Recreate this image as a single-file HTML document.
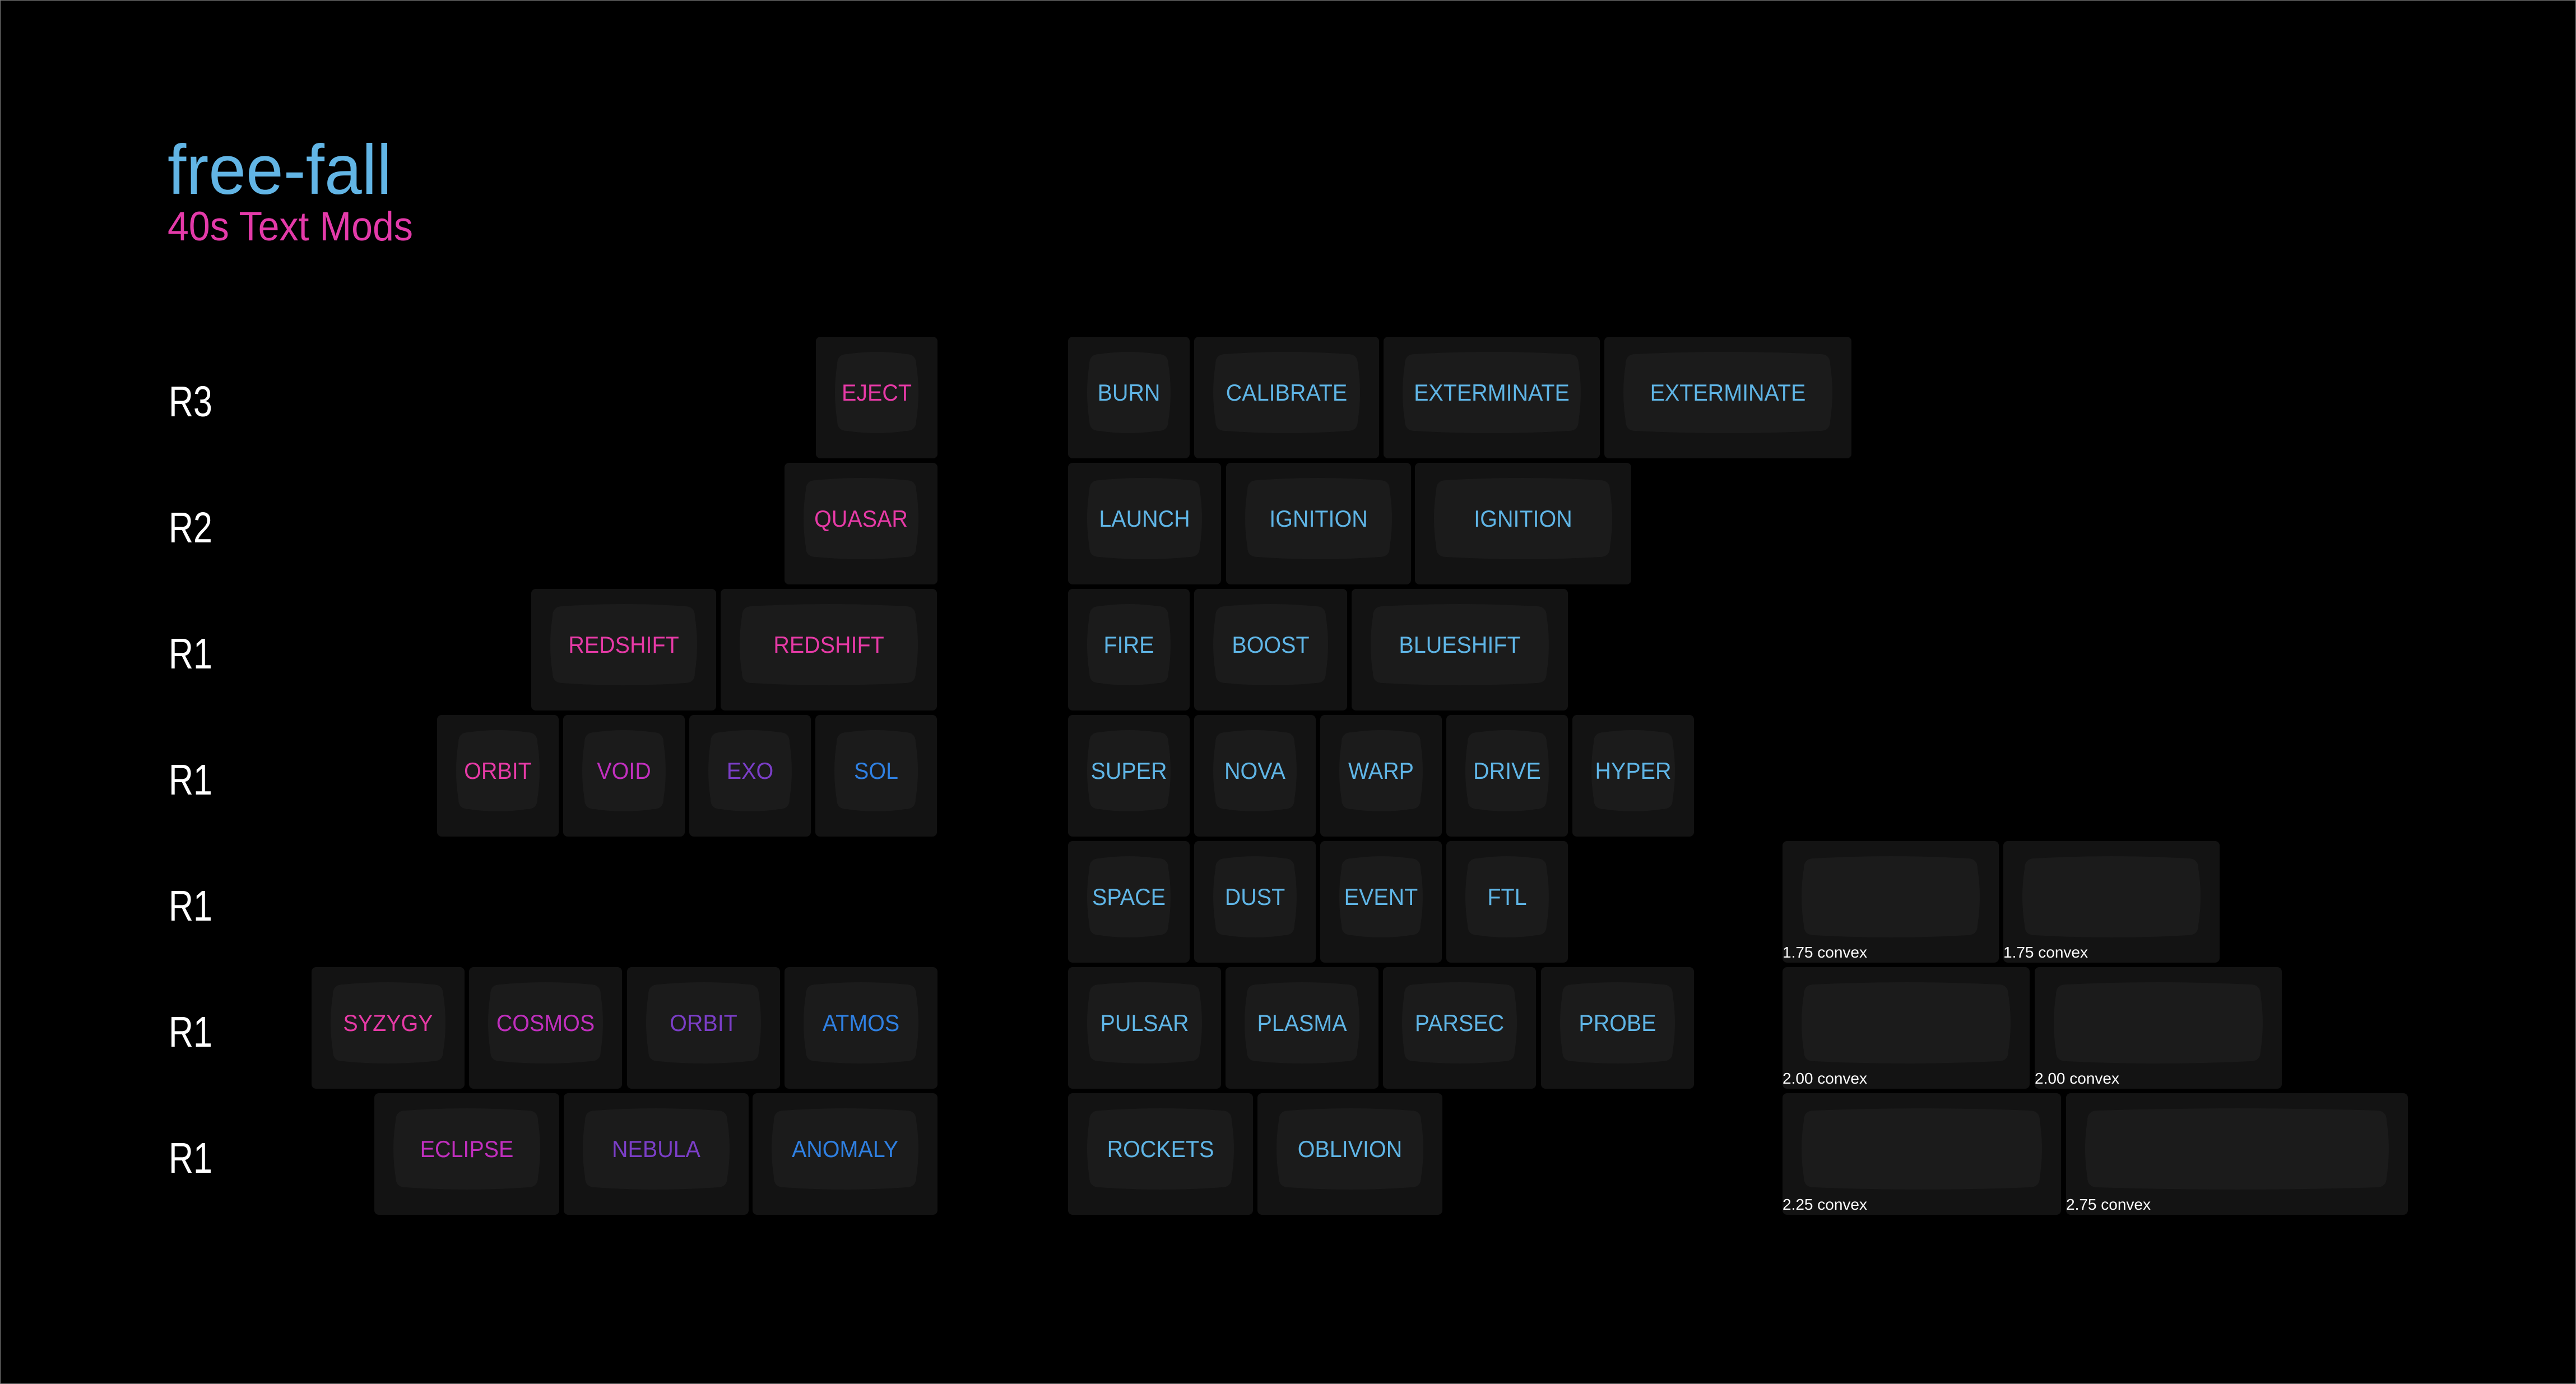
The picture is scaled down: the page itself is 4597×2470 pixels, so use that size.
<!DOCTYPE html>
<html>
<head>
<meta charset="utf-8">
<style>
  html, body { margin:0; padding:0; background:#000; }
  body { width:4597px; height:2470px; overflow:hidden; }
  svg { display:block; }
  .k rect { fill:#131313; }
  .k use { fill:#1b1b1b; }
  .k text { font-family:"Liberation Sans","DejaVu Sans",sans-serif; font-size:42px; text-anchor:middle;
            transform-box:fill-box; transform-origin:center; transform:scaleX(0.94); }
  .P { fill:#e63aa6; } .M { fill:#c12fbe; } .V { fill:#7b3ec7; } .B { fill:#2f80e2; } .L { fill:#5fb5e6; }
  .cv { font-family:"Liberation Sans","DejaVu Sans",sans-serif; font-size:28px; fill:#ffffff; }
  .rl { font-family:"Liberation Sans","DejaVu Sans",sans-serif; font-size:77px; fill:#ffffff; }
</style>
</head>
<body>
<svg width="4597" height="2470" viewBox="0 0 4597 2470" xmlns="http://www.w3.org/2000/svg">
<defs>
  <path id="i1" d="M0,22 Q0,4 18,4 Q70.5,-4 123,4 Q141,4 141,22 Q149,72.5 141,123 Q141,141 123,141 Q70.5,149 18,141 Q0,141 0,123 Q-8,72.5 0,22Z"/>
  <path id="i125" d="M0,22 Q0,4 18,4 Q98.5,-4 179,4 Q197,4 197,22 Q205,72.5 197,123 Q197,141 179,141 Q98.5,149 18,141 Q0,141 0,123 Q-8,72.5 0,22Z"/>
  <path id="i15" d="M0,22 Q0,4 18,4 Q127,-4 236,4 Q254,4 254,22 Q262,72.5 254,123 Q254,141 236,141 Q127,149 18,141 Q0,141 0,123 Q-8,72.5 0,22Z"/>
  <path id="i175" d="M0,22 Q0,4 18,4 Q155,-4 292,4 Q310,4 310,22 Q318,72.5 310,123 Q310,141 292,141 Q155,149 18,141 Q0,141 0,123 Q-8,72.5 0,22Z"/>
  <path id="i2" d="M0,22 Q0,4 18,4 Q182.5,-4 347,4 Q365,4 365,22 Q373,72.5 365,123 Q365,141 347,141 Q182.5,149 18,141 Q0,141 0,123 Q-8,72.5 0,22Z"/>
  <path id="i225" d="M0,22 Q0,4 18,4 Q210.5,-4 403,4 Q421,4 421,22 Q429,72.5 421,123 Q421,141 403,141 Q210.5,149 18,141 Q0,141 0,123 Q-8,72.5 0,22Z"/>
  <path id="i275" d="M0,22 Q0,4 18,4 Q267,-4 516,4 Q534,4 534,22 Q542,72.5 534,123 Q534,141 516,141 Q267,149 18,141 Q0,141 0,123 Q-8,72.5 0,22Z"/>
</defs>

<rect x="0" y="0" width="4597" height="2470" fill="#000"/>
<rect x="0.5" y="0.5" width="4596" height="2469" fill="none" stroke="#7a7a7a" stroke-width="1"/>

<!-- Title -->
<text x="299" y="346" font-family="Liberation Sans, DejaVu Sans, sans-serif" font-size="125" fill="#62b5e5" textLength="400" lengthAdjust="spacingAndGlyphs">free-fall</text>
<text x="299" y="429" font-family="Liberation Sans, DejaVu Sans, sans-serif" font-size="73" fill="#e43aa9" textLength="438" lengthAdjust="spacingAndGlyphs">40s Text Mods</text>

<!-- Row labels -->
<text class="rl" x="301" y="743" textLength="78" lengthAdjust="spacingAndGlyphs">R3</text>
<text class="rl" x="301" y="968" textLength="78" lengthAdjust="spacingAndGlyphs">R2</text>
<text class="rl" x="301" y="1193" textLength="78" lengthAdjust="spacingAndGlyphs">R1</text>
<text class="rl" x="301" y="1418" textLength="78" lengthAdjust="spacingAndGlyphs">R1</text>
<text class="rl" x="301" y="1643" textLength="78" lengthAdjust="spacingAndGlyphs">R1</text>
<text class="rl" x="301" y="1868" textLength="78" lengthAdjust="spacingAndGlyphs">R1</text>
<text class="rl" x="301" y="2093" textLength="78" lengthAdjust="spacingAndGlyphs">R1</text>

<!-- LEFT BLOCK -->
<g class="k" transform="translate(1456,601)"><rect width="217" height="217" rx="8"/><use href="#i1" x="38" y="27"/><text class="P" x="108.5" y="114">EJECT</text></g>
<g class="k" transform="translate(1400,826)"><rect width="273" height="217" rx="8"/><use href="#i125" x="38" y="27"/><text class="P" x="136.5" y="114">QUASAR</text></g>
<g class="k" transform="translate(948,1051)"><rect width="330" height="217" rx="8"/><use href="#i15" x="38" y="27"/><text class="P" x="165" y="114">REDSHIFT</text></g>
<g class="k" transform="translate(1286,1051)"><rect width="386" height="217" rx="8"/><use href="#i175" x="38" y="27"/><text class="P" x="193" y="114">REDSHIFT</text></g>

<g class="k" transform="translate(780,1276)"><rect width="217" height="217" rx="8"/><use href="#i1" x="38" y="27"/><text class="P" x="108.5" y="114">ORBIT</text></g>
<g class="k" transform="translate(1005,1276)"><rect width="217" height="217" rx="8"/><use href="#i1" x="38" y="27"/><text class="M" x="108.5" y="114">VOID</text></g>
<g class="k" transform="translate(1230,1276)"><rect width="217" height="217" rx="8"/><use href="#i1" x="38" y="27"/><text class="V" x="108.5" y="114">EXO</text></g>
<g class="k" transform="translate(1455,1276)"><rect width="217" height="217" rx="8"/><use href="#i1" x="38" y="27"/><text class="B" x="108.5" y="114">SOL</text></g>

<g class="k" transform="translate(556,1726)"><rect width="273" height="217" rx="8"/><use href="#i125" x="38" y="27"/><text class="P" x="136.5" y="114">SYZYGY</text></g>
<g class="k" transform="translate(837,1726)"><rect width="273" height="217" rx="8"/><use href="#i125" x="38" y="27"/><text class="M" x="136.5" y="114">COSMOS</text></g>
<g class="k" transform="translate(1119,1726)"><rect width="273" height="217" rx="8"/><use href="#i125" x="38" y="27"/><text class="V" x="136.5" y="114">ORBIT</text></g>
<g class="k" transform="translate(1400,1726)"><rect width="273" height="217" rx="8"/><use href="#i125" x="38" y="27"/><text class="B" x="136.5" y="114">ATMOS</text></g>

<g class="k" transform="translate(668,1951)"><rect width="330" height="217" rx="8"/><use href="#i15" x="38" y="27"/><text class="M" x="165" y="114">ECLIPSE</text></g>
<g class="k" transform="translate(1006,1951)"><rect width="330" height="217" rx="8"/><use href="#i15" x="38" y="27"/><text class="V" x="165" y="114">NEBULA</text></g>
<g class="k" transform="translate(1343,1951)"><rect width="330" height="217" rx="8"/><use href="#i15" x="38" y="27"/><text class="B" x="165" y="114">ANOMALY</text></g>

<!-- RIGHT BLOCK -->
<g class="k" transform="translate(1906,601)"><rect width="217" height="217" rx="8"/><use href="#i1" x="38" y="27"/><text class="L" x="108.5" y="114">BURN</text></g>
<g class="k" transform="translate(2131,601)"><rect width="330" height="217" rx="8"/><use href="#i15" x="38" y="27"/><text class="L" x="165" y="114">CALIBRATE</text></g>
<g class="k" transform="translate(2469,601)"><rect width="386" height="217" rx="8"/><use href="#i175" x="38" y="27"/><text class="L" x="193" y="114">EXTERMINATE</text></g>
<g class="k" transform="translate(2863,601)"><rect width="441" height="217" rx="8"/><use href="#i2" x="38" y="27"/><text class="L" x="220.5" y="114">EXTERMINATE</text></g>

<g class="k" transform="translate(1906,826)"><rect width="273" height="217" rx="8"/><use href="#i125" x="38" y="27"/><text class="L" x="136.5" y="114">LAUNCH</text></g>
<g class="k" transform="translate(2188,826)"><rect width="330" height="217" rx="8"/><use href="#i15" x="38" y="27"/><text class="L" x="165" y="114">IGNITION</text></g>
<g class="k" transform="translate(2525,826)"><rect width="386" height="217" rx="8"/><use href="#i175" x="38" y="27"/><text class="L" x="193" y="114">IGNITION</text></g>

<g class="k" transform="translate(1906,1051)"><rect width="217" height="217" rx="8"/><use href="#i1" x="38" y="27"/><text class="L" x="108.5" y="114">FIRE</text></g>
<g class="k" transform="translate(2131,1051)"><rect width="273" height="217" rx="8"/><use href="#i125" x="38" y="27"/><text class="L" x="136.5" y="114">BOOST</text></g>
<g class="k" transform="translate(2412,1051)"><rect width="386" height="217" rx="8"/><use href="#i175" x="38" y="27"/><text class="L" x="193" y="114">BLUESHIFT</text></g>

<g class="k" transform="translate(1906,1276)"><rect width="217" height="217" rx="8"/><use href="#i1" x="38" y="27"/><text class="L" x="108.5" y="114">SUPER</text></g>
<g class="k" transform="translate(2131,1276)"><rect width="217" height="217" rx="8"/><use href="#i1" x="38" y="27"/><text class="L" x="108.5" y="114">NOVA</text></g>
<g class="k" transform="translate(2356,1276)"><rect width="217" height="217" rx="8"/><use href="#i1" x="38" y="27"/><text class="L" x="108.5" y="114">WARP</text></g>
<g class="k" transform="translate(2581,1276)"><rect width="217" height="217" rx="8"/><use href="#i1" x="38" y="27"/><text class="L" x="108.5" y="114">DRIVE</text></g>
<g class="k" transform="translate(2806,1276)"><rect width="217" height="217" rx="8"/><use href="#i1" x="38" y="27"/><text class="L" x="108.5" y="114">HYPER</text></g>

<g class="k" transform="translate(1906,1501)"><rect width="217" height="217" rx="8"/><use href="#i1" x="38" y="27"/><text class="L" x="108.5" y="114">SPACE</text></g>
<g class="k" transform="translate(2131,1501)"><rect width="217" height="217" rx="8"/><use href="#i1" x="38" y="27"/><text class="L" x="108.5" y="114">DUST</text></g>
<g class="k" transform="translate(2356,1501)"><rect width="217" height="217" rx="8"/><use href="#i1" x="38" y="27"/><text class="L" x="108.5" y="114">EVENT</text></g>
<g class="k" transform="translate(2581,1501)"><rect width="217" height="217" rx="8"/><use href="#i1" x="38" y="27"/><text class="L" x="108.5" y="114">FTL</text></g>

<g class="k" transform="translate(1906,1726)"><rect width="273" height="217" rx="8"/><use href="#i125" x="38" y="27"/><text class="L" x="136.5" y="114">PULSAR</text></g>
<g class="k" transform="translate(2187,1726)"><rect width="273" height="217" rx="8"/><use href="#i125" x="38" y="27"/><text class="L" x="136.5" y="114">PLASMA</text></g>
<g class="k" transform="translate(2468,1726)"><rect width="273" height="217" rx="8"/><use href="#i125" x="38" y="27"/><text class="L" x="136.5" y="114">PARSEC</text></g>
<g class="k" transform="translate(2750,1726)"><rect width="273" height="217" rx="8"/><use href="#i125" x="38" y="27"/><text class="L" x="136.5" y="114">PROBE</text></g>

<g class="k" transform="translate(1906,1951)"><rect width="330" height="217" rx="8"/><use href="#i15" x="38" y="27"/><text class="L" x="165" y="114">ROCKETS</text></g>
<g class="k" transform="translate(2244,1951)"><rect width="330" height="217" rx="8"/><use href="#i15" x="38" y="27"/><text class="L" x="165" y="114">OBLIVION</text></g>

<!-- CONVEX BLOCK -->
<g class="k" transform="translate(3181,1501)"><rect width="386" height="217" rx="8"/><use href="#i175" x="38" y="27"/></g>
<text class="cv" x="3181" y="1709">1.75 convex</text>
<g class="k" transform="translate(3575,1501)"><rect width="386" height="217" rx="8"/><use href="#i175" x="38" y="27"/></g>
<text class="cv" x="3575" y="1709">1.75 convex</text>

<g class="k" transform="translate(3181,1726)"><rect width="441" height="217" rx="8"/><use href="#i2" x="38" y="27"/></g>
<text class="cv" x="3181" y="1934">2.00 convex</text>
<g class="k" transform="translate(3631,1726)"><rect width="441" height="217" rx="8"/><use href="#i2" x="38" y="27"/></g>
<text class="cv" x="3631" y="1934">2.00 convex</text>

<g class="k" transform="translate(3181,1951)"><rect width="497" height="217" rx="8"/><use href="#i225" x="38" y="27"/></g>
<text class="cv" x="3181" y="2159">2.25 convex</text>
<g class="k" transform="translate(3687,1951)"><rect width="610" height="217" rx="8"/><use href="#i275" x="38" y="27"/></g>
<text class="cv" x="3687" y="2159">2.75 convex</text>
</svg>
</body>
</html>
